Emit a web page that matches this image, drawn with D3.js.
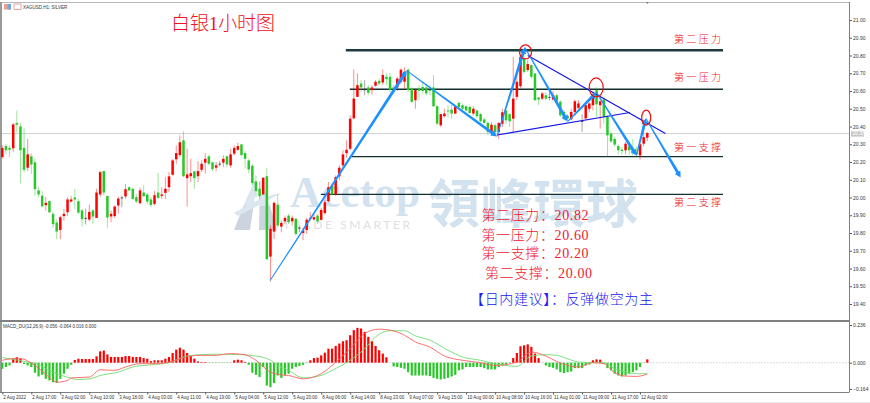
<!DOCTYPE html>
<html><head><meta charset="utf-8">
<script src="https://cdn.jsdelivr.net/npm/d3@7/dist/d3.min.js"></script>
<style>html,body{margin:0;padding:0;background:#fff;overflow:hidden}svg{display:block}</style>
</head><body><svg id="c" width="870" height="403"></svg>
<script>
const opens=[20.228,20.290,20.279,20.277,20.42,20.40,20.279,20.168,20.232,20.198,
20.04,20.01,19.957,19.98,19.908,19.859,19.817,19.895,19.917,19.977,
20.0,19.979,19.927,19.885,19.876,19.927,19.885,20.017,20.149,20.008,
19.893,19.895,19.955,20.0,20.006,20.058,20.049,20.002,19.968,20.028,
20.017,19.989,19.964,20.028,20.009,20.026,20.058,20.128,20.215,20.239,
20.322,20.109,20.12,20.147,20.12,20.156,20.196,20.232,20.198,20.168,
20.19,20.196,20.232,20.181,20.247,20.269,20.299,20.25,20.209,20.179,
20.09,20.049,20.017,20.12,19.667,19.808,19.96,19.836,19.866,19.898,
19.866,19.88,19.83,19.8,19.817,19.88,19.876,19.898,19.874,19.912,
19.979,20.068,20.017,20.119,20.181,20.25,20.275,20.446,20.567,20.642,
20.609,20.62,20.605,20.63,20.657,20.648,20.68,20.68,20.62,20.62,
20.652,20.652,20.72,20.614,20.548,20.614,20.623,20.62,20.605,20.62,
20.514,20.407,20.458,20.49,20.495,20.473,20.533,20.52,20.514,20.51,
20.473,20.49,20.47,20.44,20.42,20.369,20.407,20.369,20.416,20.49,
20.47,20.444,20.567,20.627,20.783,20.718,20.746,20.699,20.563,20.557,
20.576,20.567,20.552,20.576,20.54,20.482,20.46,20.44,20.482,20.505,
20.43,20.445,20.50,20.52,20.605,20.52,20.552,20.454,20.36,20.33,
20.29,20.27,20.266,20.288,20.266,20.256,20.237,20.303,20.337];
const highs=[20.294,20.303,20.294,20.42,20.49,20.42,20.39,20.33,20.25,20.218,
20.058,20.036,20.002,19.983,19.917,19.874,19.898,19.936,20.002,20.008,
20.049,19.992,19.936,19.936,19.96,19.936,20.049,20.149,20.149,20.011,
19.927,19.955,20.006,20.011,20.077,20.062,20.055,20.021,20.055,20.068,
20.024,20.002,20.036,20.137,20.058,20.115,20.143,20.218,20.294,20.35,
20.373,20.275,20.218,20.152,20.205,20.209,20.25,20.243,20.203,20.2,
20.205,20.237,20.237,20.275,20.294,20.309,20.303,20.262,20.218,20.19,
20.124,20.087,20.115,20.168,19.842,19.977,20.02,19.87,19.898,19.908,
19.898,19.885,19.842,19.83,19.885,19.917,19.908,19.908,19.942,19.987,
20.087,20.077,20.124,20.181,20.266,20.322,20.463,20.722,20.70,20.661,
20.661,20.633,20.633,20.661,20.67,20.721,20.699,20.702,20.633,20.68,
20.727,20.733,20.727,20.623,20.614,20.633,20.652,20.642,20.633,20.69,
20.52,20.47,20.5,20.52,20.52,20.52,20.544,20.525,20.52,20.52,
20.514,20.495,20.477,20.45,20.43,20.425,20.416,20.425,20.5,20.495,
20.473,20.793,20.69,20.8,20.82,20.774,20.75,20.7,20.567,20.595,
20.595,20.595,20.6,20.586,20.548,20.492,20.47,20.5,20.552,20.548,
20.47,20.525,20.535,20.595,20.62,20.576,20.567,20.463,20.37,20.34,
20.3,20.285,20.313,20.3,20.33,20.285,20.303,20.416,20.37];
const lows=[20.219,20.247,20.228,20.256,20.367,20.08,20.14,20.15,20.134,20.008,
20.002,19.945,19.927,19.913,19.83,19.766,19.766,19.87,19.898,19.973,
19.936,19.908,19.838,19.848,19.866,19.851,19.885,20.002,20.011,19.83,
19.86,19.885,19.908,19.945,19.992,20.036,19.987,19.968,19.96,20.002,
19.96,19.945,19.955,19.992,19.992,19.992,20.03,20.124,20.19,20.228,
20.115,19.949,20.087,20.049,20.087,20.143,20.134,20.181,20.149,20.149,
20.175,20.171,20.171,20.168,20.237,20.262,20.232,20.166,20.137,20.068,
20.002,19.989,20.017,19.644,19.527,19.766,19.832,19.804,19.851,19.851,
19.842,19.785,19.804,19.76,19.795,19.87,19.87,19.851,19.87,19.904,
19.973,20.008,20.008,20.096,20.171,20.224,20.265,20.44,20.567,20.595,
20.576,20.576,20.58,20.623,20.633,20.633,20.633,20.595,20.585,20.6,
20.64,20.614,20.595,20.533,20.5,20.548,20.585,20.576,20.576,20.51,
20.407,20.397,20.45,20.45,20.444,20.47,20.5,20.49,20.487,20.473,
20.463,20.444,20.42,20.416,20.35,20.36,20.345,20.33,20.397,20.413,
20.397,20.37,20.55,20.614,20.698,20.708,20.67,20.544,20.52,20.55,
20.548,20.548,20.548,20.52,20.454,20.435,20.44,20.435,20.463,20.49,
20.37,20.445,20.48,20.49,20.454,20.388,20.416,20.232,20.307,20.285,
20.243,20.24,20.243,20.243,20.237,20.232,20.213,20.288,20.318];
const closes=[20.279,20.266,20.269,20.412,20.41,20.266,20.156,20.243,20.186,20.047,
20.017,19.95,19.97,19.917,19.85,19.808,19.889,19.908,19.989,19.989,
19.989,19.915,19.878,19.885,19.919,19.893,20.028,20.143,20.028,19.887,
19.908,19.949,19.994,20.0,20.047,20.04,19.992,19.977,20.04,20.008,
19.977,19.958,20.013,19.998,20.017,20.049,20.119,20.209,20.25,20.311,
20.12,20.13,20.137,20.109,20.149,20.19,20.218,20.19,20.16,20.181,
20.19,20.218,20.186,20.243,20.279,20.29,20.239,20.218,20.158,20.081,
20.036,20.008,20.111,19.653,19.823,19.97,19.842,19.857,19.885,19.861,
19.885,19.795,19.83,19.814,19.875,19.885,19.889,19.866,19.93,19.973,
20.058,20.017,20.115,20.168,20.243,20.269,20.444,20.557,20.633,20.62,
20.609,20.59,20.62,20.652,20.642,20.69,20.667,20.605,20.61,20.67,
20.72,20.708,20.605,20.539,20.605,20.6,20.6,20.586,20.6,20.514,
20.416,20.47,20.473,20.485,20.473,20.514,20.51,20.5,20.49,20.476,
20.5,20.458,20.43,20.42,20.369,20.41,20.369,20.42,20.48,20.435,
20.43,20.557,20.652,20.793,20.708,20.752,20.68,20.548,20.552,20.586,
20.557,20.567,20.576,20.53,20.463,20.444,20.445,20.482,20.542,20.53,
20.43,20.52,20.53,20.576,20.525,20.542,20.454,20.35,20.316,20.298,
20.266,20.262,20.303,20.266,20.25,20.243,20.3,20.34,20.363];
const macdHist=[-.038,-.027,-.017,.025,.034,.025,-.008,-.017,-.027,-.063,
-.086,-.076,-.101,-.111,-.122,-.126,-.101,-.069,-.038,-.013,
.017,.025,.023,.023,.023,.023,.04,.071,.076,.052,
.036,.036,.036,.036,.042,.042,.036,.036,.036,.029,
.025,.01,.015,.015,.015,.025,.036,.061,.082,.094,
.082,.061,.042,.025,.008,.004,.004,-.002,-.002,-.002,
-.002,-.002,-.002,.001,.015,.019,.015,.004,-.013,-.063,
-.076,-.09,-.027,-.143,-.153,-.128,-.08,-.095,-.08,-.069,
-.038,-.027,-.021,-.013,-.002,.015,.029,.032,.046,.063,
.088,.088,.105,.12,.134,.141,.172,.204,.218,.214,
.193,.162,.134,.105,.078,.057,.034,0,-.023,-.027,
-.032,-.038,-.059,-.08,-.08,-.08,-.08,-.08,-.084,-.095,
-.101,-.105,-.101,-.095,-.086,-.076,-.048,-.042,-.027,-.027,
-.027,-.027,-.027,-.034,-.042,-.042,-.042,-.027,-.017,-.011,
-.002,.029,.061,.103,.109,.115,.099,.057,.029,0,
-.017,-.027,-.032,-.042,-.059,-.065,-.059,-.055,-.034,-.034,
-.034,-.017,-.011,.015,.021,.019,-.006,-.034,-.048,-.069,
-.08,-.086,-.08,-.069,-.059,-.048,-.027,-.002,.021];
const signalBars=[1,4,8,11,14,18,22,25,28,33,37,42,47,52,56,60,67,71,75,77,80,84,89,92,97,101,104,108,112,115,119,124,128,133,137,143,147,151,154,157,160,164,167,170,173,176,179];
const signalVals=[.032,.021,.004,-.011,-.048,-.084,-.105,-.101,-.08,-.059,-.027,-.013,0,.042,.05,.053,.05,.042,.015,-.017,-.048,-.095,-.08,-.048,.015,.088,.161,.2,.2,.168,.141,.078,.036,.015,-.006,-.023,.042,.05,.046,.025,.004,0,0,-.038,-.059,-.069,-.069];
const macdBars=[1,4,6,10,14,16,19,20,25,28,32,35,39,44,47,52,55,60,64,68,71,75,78,80,84,89,92,97,101,105,108,112,115,119,123,128,133,137,143,147,151,154,157,160,164,167,170,173,176,179];
const macdVals=[.015,.025,.025,-.017,-.092,-.122,-.111,-.095,-.09,-.044,-.048,-.027,-.006,-.006,.004,.036,.046,.046,.057,.05,.015,-.059,-.076,-.08,-.101,-.069,-.017,.088,.183,.21,.204,.172,.13,.098,.042,.015,0,-.017,.004,.067,.042,.008,-.017,-.027,0,-.006,-.063,-.084,-.086,-.071];
const timeTicks=["2 Aug 2022","2 Aug 17:00","3 Aug 02:00","3 Aug 10:00","3 Aug 18:00","4 Aug 03:00","4 Aug 11:00","4 Aug 19:00","5 Aug 04:00","5 Aug 12:00","5 Aug 20:00","8 Aug 06:00","8 Aug 14:00","8 Aug 23:00","9 Aug 07:00","9 Aug 15:00","10 Aug 00:00","10 Aug 08:00","10 Aug 16:00","11 Aug 01:00","11 Aug 09:00","11 Aug 17:00","12 Aug 02:00"];
const priceTicks=[21.0,20.9,20.8,20.7,20.6,20.5,20.4,20.3,20.2,20.1,20.0,19.9,19.8,19.7,19.6,19.5,19.4];
const macdTicks=[0.236,0,-0.164];
const lastPrice=20.36;
const levelPrices=[20.83,20.61,20.23,20.018];
const levelStartBars=[95.8,96.9,97.4,88.9];
const levelNames=["第二压力","第一压力","第一支撑","第二支撑"];
const levelLabelPrices=[20.892,20.678,20.282,19.972];
const zigBars=[74.9,112.6,137.5,145.2,157,165,176,178.6,188.2];
const zigPrices=[19.532,20.715,20.344,20.845,20.428,20.592,20.237,20.445,20.113];
const trendBars=[[146,184],[137.5,174.2]];
const trendPrices=[[20.8,20.361],[20.352,20.479]];
const circleBars=[145.4,164.9,178.7];
const circlePrices=[20.82,20.62,20.45];
const summary=["第二压力：20.82","第一压力：20.60","第一支撑：20.20","第二支撑：20.00"];
const advice="【日内建议】：反弹做空为主";

const cjk='"Noto Sans CJK SC","Noto Sans",sans-serif';
const svg=d3.select("#c");
const x=d3.scaleLinear().domain([1,179]).range([2.33,647.3]);
const y=d3.scaleLinear().domain([19.4,21.0]).range([304,20]);
const ym=d3.scaleLinear().domain([-0.164,0.236]).range([388.9,325]);
const RED="#ff0000",GREEN="#28c828";

// watermark
const wm=svg.append("g");
wm.append("path").attr("d","M234 230L250 230L253.5 206L243.5 206Z M259 230L277 230L270 206L259.5 206Z").attr("fill","#ccd5df");
wm.append("path").attr("d","M243.5 206L253.5 206L257 181L254 181Z M259.5 206L270 206L262 181L259 181Z").attr("fill","#dbe6ef");
wm.append("path").attr("d","M234 213Q262 196 281 193Q262 204 238 216Z").attr("fill","#dbe6ef");
wm.append("text").attr("x",290).attr("y",207).attr("font-family","'Liberation Serif',serif").attr("font-weight",700).attr("font-size",45).attr("textLength",130).attr("lengthAdjust","spacingAndGlyphs").attr("fill","#d2e2ef").text("Acetop");
wm.append("text").attr("x",283).attr("y",229).attr("font-family","Lato,'Noto Sans',sans-serif").attr("font-size",12).attr("textLength",127).attr("fill","#dcdfe3").text("TRADE SMARTER");
wm.append("text").attr("x",428).attr("y",223).attr("font-family",'"Noto Sans CJK TC",sans-serif').attr("font-weight",700).attr("font-size",52).attr("textLength",210).attr("fill","#d2e2ef").text("領峰環球");

// frame
const fr=svg.append("g").attr("fill","none");
fr.append("line").attr("x1",0).attr("x2",849).attr("y1",2.5).attr("y2",2.5).attr("stroke","#b8b8b8");
fr.append("line").attr("x1",1).attr("x2",1).attr("y1",2).attr("y2",392).attr("stroke","#9a9a9a").attr("stroke-width",2);
fr.append("line").attr("x1",849.5).attr("x2",849.5).attr("y1",2).attr("y2",392.5).attr("stroke","#808080");
fr.append("line").attr("x1",0).attr("x2",849).attr("y1",321).attr("y2",321).attr("stroke","#808080").attr("stroke-width",2);
fr.append("line").attr("x1",0).attr("x2",849).attr("y1",392.5).attr("y2",392.5).attr("stroke","#808080");
fr.append("line").attr("x1",0).attr("x2",870).attr("y1",402.5).attr("y2",402.5).attr("stroke","#e8e8e8");

// last price line
svg.append("line").attr("x1",2).attr("x2",849).attr("y1",y(lastPrice)).attr("y2",y(lastPrice)).attr("stroke","#d0d0d0");
svg.append("rect").attr("x",851).attr("y",y(lastPrice)-2.5).attr("width",13).attr("height",5.5).attr("fill","#c8c8c8");
svg.append("text").attr("x",852.6).attr("y",y(lastPrice)+1.8).attr("font-family","'Liberation Sans'").attr("font-size",5).attr("fill","#fff").text(lastPrice.toFixed(2));

// level lines
const lastLevelBar=x.invert(723);
levelPrices.forEach((p,i)=>svg.append("line").attr("x1",x(levelStartBars[i])).attr("x2",x(lastLevelBar)).attr("y1",y(p)).attr("y2",y(p)).attr("stroke",i==0?"#1d3a3c":"#12302f").attr("stroke-width",i==0?2.4:1.3));

// candles
const idx=d3.range(opens.length);
const col=i=>Math.abs(opens[i]-closes[i])<0.002?"#333":(closes[i]>opens[i]?RED:GREEN);
const cg=svg.append("g");
cg.selectAll("line").data(idx).join("line")
 .attr("x1",i=>x(i+1)).attr("x2",i=>x(i+1)).attr("y1",i=>y(highs[i])).attr("y2",i=>y(lows[i]))
 .attr("stroke",col).attr("stroke-opacity",.45).attr("stroke-width",1);
cg.selectAll("rect").data(idx).join("rect")
 .attr("x",i=>x(i+1)-1.25).attr("width",2.5)
 .attr("y",i=>y(Math.max(opens[i],closes[i])))
 .attr("height",i=>Math.max(0.8,Math.abs(y(opens[i])-y(closes[i]))))
 .attr("fill",col);

// trend lines
trendBars.forEach((b,i)=>svg.append("line").attr("x1",x(b[0])).attr("x2",x(b[1])).attr("y1",y(trendPrices[i][0])).attr("y2",y(trendPrices[i][1])).attr("stroke","#1414e6").attr("stroke-width",1.2));

// tapered zig-zag arrows
const ag=svg.append("g").attr("fill","#1e90ff");
for(let k=0;k<zigBars.length-1;k++){
  const x0=x(zigBars[k]),y0=y(zigPrices[k]),x1=x(zigBars[k+1]),y1=y(zigPrices[k+1]);
  const L=Math.hypot(x1-x0,y1-y0),ux=(x1-x0)/L,uy=(y1-y0)/L,nx=-uy,ny=ux;
  const w0=.5,w1=1.5,h=3.2,hl=6;
  const bx=x1-ux*hl,by=y1-uy*hl;
  ag.append("path").attr("d",`M${x0+nx*w0} ${y0+ny*w0}L${bx+nx*w1} ${by+ny*w1}L${bx+nx*h} ${by+ny*h}L${x1} ${y1}L${bx-nx*h} ${by-ny*h}L${bx-nx*w1} ${by-ny*w1}L${x0-nx*w0} ${y0-ny*w0}Z`);
}
// circles
const rads=[[6,7],[7,9.5],[4.5,7.5]];
circleBars.forEach((b,i)=>svg.append("ellipse").attr("cx",x(b)).attr("cy",y(circlePrices[i])).attr("rx",rads[i][0]).attr("ry",rads[i][1]).attr("fill","none").attr("stroke","#f01010").attr("stroke-width",1.2));

// axes
const fmtAxis=g=>{g.select(".domain").remove();g.selectAll("line").attr("stroke","#555");g.selectAll("text").attr("font-family","'Liberation Sans',sans-serif").attr("fill","#333").attr("font-size",5);};
svg.append("g").attr("transform","translate(850,0)").call(d3.axisRight(y).tickValues(priceTicks).tickSize(2).tickPadding(1).tickFormat(d3.format(".2f"))).call(fmtAxis);
svg.append("g").attr("transform","translate(850,0)").call(d3.axisRight(ym).tickValues(macdTicks).tickSize(2).tickPadding(1).tickFormat(d3.format(".3f"))).call(fmtAxis);
const tickBars=timeTicks.map((_,i)=>1+8*i);
const xa=svg.append("g").attr("transform","translate(0,392.5)").call(d3.axisBottom(x).tickValues(tickBars).tickSize(2).tickPadding(1).tickFormat((d,i)=>timeTicks[i])).call(fmtAxis);
xa.selectAll("text").attr("text-anchor","start").attr("dx",0.5).attr("font-size",4.5);

// MACD
svg.append("line").attr("x1",2).attr("x2",849).attr("y1",ym(0)).attr("y2",ym(0)).attr("stroke","#bbb").attr("stroke-width",.7).attr("stroke-dasharray","1.5 1.5");
svg.append("g").selectAll("rect").data(idx).join("rect")
 .attr("x",i=>x(i+1)-1.1).attr("width",2.2)
 .attr("y",i=>Math.min(ym(0),ym(macdHist[i])))
 .attr("height",i=>Math.abs(ym(0)-ym(macdHist[i])))
 .attr("fill",i=>macdHist[i]>=0?RED:GREEN);
const ln=(bars,vals)=>d3.line().x((b)=>x(b)).y((b,i)=>ym(vals[i])).curve(d3.curveMonotoneX)(bars);
svg.append("path").attr("d",ln(signalBars,signalVals)).attr("fill","none").attr("stroke","#6fdc6f").attr("stroke-width",.9);
svg.append("path").attr("d",ln(macdBars,macdVals)).attr("fill","none").attr("stroke","#ff6060").attr("stroke-width",.9);

// small text
svg.append("text").attr("x",3).attr("y",328).attr("font-family","'Liberation Sans'").attr("font-size",4.5).attr("fill","#333").text("MACD_DU(12,26,9) -0.056 -0.064 0.016 0.000");
svg.append("text").attr("x",23).attr("y",8.7).attr("font-family","'Liberation Sans'").attr("font-size",4.5).attr("fill","#333").text("XAGUSD,H1: SILVER");
svg.append("rect").attr("x",4).attr("y",4).attr("width",7).attr("height",5.5).attr("fill","#f0a090");
svg.append("rect").attr("x",7.5).attr("y",4).attr("width",3.5).attr("height",5.5).attr("fill","#70a8e0");
svg.append("rect").attr("x",14).attr("y",4).attr("width",7).attr("height",5.5).attr("fill","#fff").attr("stroke","#e09090").attr("stroke-width",.8);
svg.append("path").attr("d",`M${x(179)-1.5} 2L${x(179)+1.5} 2L${x(179)} 4Z`).attr("fill","#777");

// titles & notes
svg.append("text").attr("x",171).attr("y",30).attr("font-family",'"Liberation Serif","Noto Sans CJK SC",serif').attr("font-weight",300).attr("font-size",19).attr("textLength",104).attr("fill","#f41020").text("白银1小时图");
levelNames.forEach((t,i)=>svg.append("text").attr("x",674).attr("y",y(levelLabelPrices[i])+4).attr("font-family",cjk).attr("font-weight",300).attr("font-size",10).attr("textLength",47).attr("fill","#f01020").text(t));
const sumX=[481.5,481.5,481.5,485],sumY=[219.5,240,258,278];
summary.forEach((t,i)=>svg.append("text").attr("x",sumX[i]).attr("y",sumY[i]).attr("font-family",'"Liberation Serif","Noto Sans CJK SC",serif').attr("font-weight",300).attr("font-size",14).attr("textLength",107).attr("fill","#f02030").text(t));
svg.append("text").attr("x",470).attr("y",303.5).attr("font-family",cjk).attr("font-weight",300).attr("font-size",14).attr("textLength",183).attr("fill","#2020f0").text(advice);
</script></body></html>
